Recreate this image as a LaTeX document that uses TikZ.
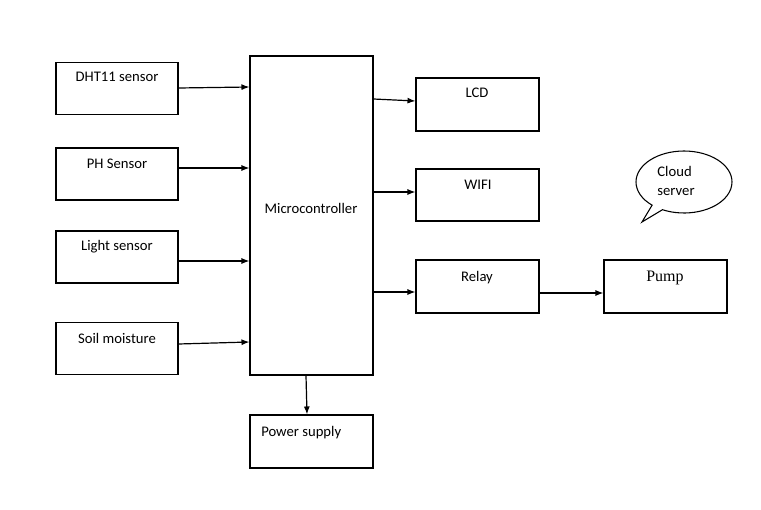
\documentclass[tikz,border=0pt]{standalone}
\usepackage{fontspec}
\setmainfont{Carlito}
\newfontfamily\pumpfont{Liberation Serif}
\usetikzlibrary{arrows.meta,positioning,shapes.callouts}

\begin{document}
\begin{tikzpicture}[
    x=0.75pt, y=-0.75pt,
    every node/.style={font=\fontsize{11}{13}\selectfont},
    blk/.style  ={draw, line width=0.8pt, inner sep=0pt},
    lbl/.style  ={anchor=base, inner sep=0pt},
    link/.style ={line width=0.9pt, -{Latex[length=6pt,width=4.5pt]}},
  ]
  \useasboundingbox (0,0) rectangle (761,510);

  % sensor blocks (left column)
  \node[blk, minimum width=91.5pt, minimum height=38.5pt] (dht)   at (117,88.5)  {};
  \node[blk, minimum width=91.5pt, minimum height=39pt]   (ph)    at (117,174)   {};
  \node[blk, minimum width=91.5pt, minimum height=39pt]   (light) at (117,257)   {};
  \node[blk, minimum width=91.5pt, minimum height=39.5pt] (soil)  at (117,348.5) {};
  \node[lbl] (dhtl)   at (117,82)  {DHT11 sensor};
  \node[lbl] (phl)    at (117,168) {PH Sensor};
  \node[lbl] (lightl) at (117,250) {Light sensor};
  \node[lbl] (soill)  at (117,343) {Soil moisture};

  % controller and supply
  \node[blk, minimum width=92.25pt, minimum height=239.25pt] (mcu) at (311.5,215.5) {};
  \node[blk, minimum width=92.25pt, minimum height=39.75pt]  (pwr) at (311.5,441.5) {};
  \node[lbl] (mcul) at (311,213) {Microcontroller};
  \node[lbl, anchor=base west] (pwrl) at (261,436) {Power supply};

  % outputs (right column)
  \node[blk, minimum width=92.25pt, minimum height=39.75pt] (lcd)   at (477.5,104.5) {};
  \node[blk, minimum width=92.25pt, minimum height=39pt]    (wifi)  at (477.5,195)   {};
  \node[blk, minimum width=92.25pt, minimum height=39.75pt] (relay) at (477.5,286.5) {};
  \node[blk, minimum width=92.25pt, minimum height=39.75pt] (pump)  at (665.5,286.5) {};
  \node[lbl] (lcdl)   at (477,98)  {LCD};
  \node[lbl] (wifil)  at (478,190) {WIFI};
  \node[lbl] (relayl) at (477,281) {Relay};
  \node[lbl, font=\pumpfont\fontsize{12}{14}\selectfont] (pumpl) at (665,281) {Pump};

  % cloud bubble
  \node[ellipse callout, draw, line width=0.8pt, minimum width=72pt, minimum height=46.5pt,
        callout absolute pointer={(642,222)}] (cloud) at (684,182) {};
  \node[align=left, inner sep=0pt] (cloudl) at (676,181) {Cloud\\[1pt]server};

  % links
  \draw[link] (dht.east |- 0,88)   -- (mcu.west |- 0,87);
  \draw[link] (ph.east |- 0,168)   -- (mcu.west |- 0,168);
  \draw[link] (light.east |- 0,261) -- (mcu.west |- 0,261);
  \draw[link] (soil.east |- 0,344) -- (mcu.west |- 0,342);
  \draw[link] (mcu.east |- 0,99)   -- (lcd.west |- 0,101);
  \draw[link] (mcu.east |- 0,192)  -- (wifi.west |- 0,192);
  \draw[link] (mcu.east |- 0,292)  -- (relay.west |- 0,292);
  \draw[link] (relay.east |- 0,293) -- (pump.west |- 0,293);
  \draw[link] (mcu.south -| 306,0) -- (pwr.north -| 307,0);
\end{tikzpicture}
\end{document}
